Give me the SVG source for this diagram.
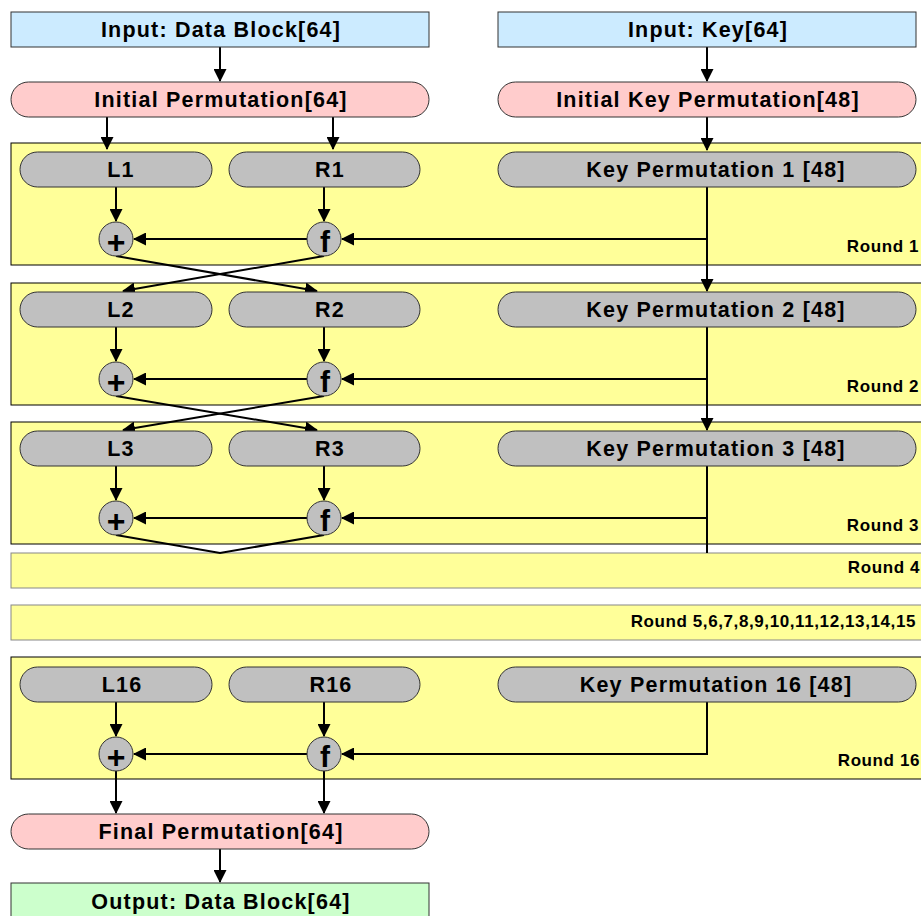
<svg xmlns="http://www.w3.org/2000/svg" width="921" height="916" viewBox="0 0 921 916">
<style>
.rnd{fill:#ffff99;stroke:#000;stroke-width:1}
.soft{stroke:#888}
.in{fill:#ccebff;stroke:#333;stroke-width:1}
.perm{fill:#ffcccc;stroke:#333;stroke-width:1}
.reg{fill:#c0c0c0;stroke:#333;stroke-width:1}
.out{fill:#ccffcc;stroke:#333;stroke-width:1}
text{font-family:"Liberation Sans",Arial,sans-serif;font-weight:bold;fill:#000}
.t{font-size:21.5px;letter-spacing:1.2px;text-anchor:middle}
.rl{font-size:17px;letter-spacing:0.6px;text-anchor:end}
.sym{text-anchor:middle}
.c{fill:none;stroke:#000;stroke-width:2}
.a{marker-end:url(#ah)}
</style>
<defs>
<marker id="ah" markerUnits="userSpaceOnUse" markerWidth="13" markerHeight="13" refX="12" refY="6.5" orient="auto">
<path d="M0,0 L13,6.5 L0,13 z" fill="#000"/>
</marker>
</defs>

<!-- round bands -->
<g id="round1"><rect class="rnd" x="11" y="143" width="912" height="122"/><text class="rl" x="919" y="252">Round 1</text></g>
<g id="round2"><rect class="rnd" x="11" y="283" width="912" height="122"/><text class="rl" x="919" y="392">Round 2</text></g>
<g id="round3"><rect class="rnd" x="11" y="422" width="912" height="122"/><text class="rl" x="919" y="531">Round 3</text></g>
<g id="round4"><rect class="rnd soft" x="11" y="553" width="912" height="35"/><text class="rl" x="920" y="573">Round 4</text></g>
<g id="round5_15"><rect class="rnd soft" x="11" y="605" width="912" height="35"/><text class="rl" x="916" y="627">Round 5,6,7,8,9,10,11,12,13,14,15</text></g>
<g id="round16"><rect class="rnd" x="11" y="657" width="912" height="122"/><text class="rl" x="920" y="766">Round 16</text></g>

<!-- connectors -->
<g id="connectors">
<path class="c a" d="M220,47 V81"/>
<path class="c a" d="M707,47 V81"/>
<path class="c a" d="M107,117 V149"/>
<path class="c a" d="M333,117 V149"/>
<path class="c a" d="M707,117 V150"/>

<path class="c a" d="M116,187 V221"/>
<path class="c a" d="M324,187 V221"/>
<path class="c a" d="M707,187 V291"/>
<path class="c a" d="M707,239 H342"/>
<path class="c a" d="M307,239 H134"/>
<path class="c a" d="M116,256 L317,291"/>
<path class="c a" d="M324,256 L123,291"/>

<path class="c a" d="M116,327 V361"/>
<path class="c a" d="M324,327 V361"/>
<path class="c a" d="M707,327 V430"/>
<path class="c a" d="M707,379 H342"/>
<path class="c a" d="M307,379 H134"/>
<path class="c a" d="M116,396 L317,430"/>
<path class="c a" d="M324,396 L123,430"/>

<path class="c a" d="M116,466 V500"/>
<path class="c a" d="M324,466 V500"/>
<path class="c" d="M707,466 V553"/>
<path class="c a" d="M707,518 H342"/>
<path class="c a" d="M307,518 H134"/>
<path class="c" d="M116,535 L220,553 L324,535"/>

<path class="c a" d="M116,702 V736"/>
<path class="c a" d="M324,702 V736"/>
<path class="c a" d="M707,702 V754 H342"/>
<path class="c a" d="M307,754 H134"/>
<path class="c a" d="M116,771 V813"/>
<path class="c a" d="M324,771 V813"/>
<path class="c a" d="M220,849 V882"/>
</g>

<!-- inputs and permutations -->
<g id="in_data"><rect class="in" x="11" y="12" width="418" height="35"/><text class="t" x="221" y="37">Input: Data Block[64]</text></g>
<g id="in_key"><rect class="in" x="498" y="12" width="418" height="35"/><text class="t" x="708" y="37">Input: Key[64]</text></g>
<g id="ip"><rect class="perm" x="11" y="82" width="418" height="35" rx="17.5"/><text class="t" x="221" y="107">Initial Permutation[64]</text></g>
<g id="ikp"><rect class="perm" x="498" y="82" width="418" height="35" rx="17.5"/><text class="t" x="708" y="107">Initial Key Permutation[48]</text></g>

<!-- round 1 -->
<g id="L1"><rect class="reg" x="20" y="152" width="192" height="35" rx="17.5"/><text class="t" x="121" y="177">L1</text></g>
<g id="R1"><rect class="reg" x="229" y="152" width="191" height="35" rx="17.5"/><text class="t" x="330" y="177">R1</text></g>
<g id="K1"><rect class="reg" x="498" y="152" width="418" height="35" rx="17.5"/><text class="t" x="716" y="177">Key Permutation 1 [48]</text></g>
<g id="xor1"><circle class="reg" cx="116" cy="239" r="17"/><text class="sym" x="116" y="253" font-size="32">+</text></g>
<g id="f1"><circle class="reg" cx="324" cy="239" r="17"/><text class="sym" x="325" y="252" font-size="30">f</text></g>

<!-- round 2 -->
<g id="L2"><rect class="reg" x="20" y="292" width="192" height="35" rx="17.5"/><text class="t" x="121" y="317">L2</text></g>
<g id="R2"><rect class="reg" x="229" y="292" width="191" height="35" rx="17.5"/><text class="t" x="330" y="317">R2</text></g>
<g id="K2"><rect class="reg" x="498" y="292" width="418" height="35" rx="17.5"/><text class="t" x="716" y="317">Key Permutation 2 [48]</text></g>
<g id="xor2"><circle class="reg" cx="116" cy="379" r="17"/><text class="sym" x="116" y="393" font-size="32">+</text></g>
<g id="f2"><circle class="reg" cx="324" cy="379" r="17"/><text class="sym" x="325" y="392" font-size="30">f</text></g>

<!-- round 3 -->
<g id="L3"><rect class="reg" x="20" y="431" width="192" height="35" rx="17.5"/><text class="t" x="121" y="456">L3</text></g>
<g id="R3"><rect class="reg" x="229" y="431" width="191" height="35" rx="17.5"/><text class="t" x="330" y="456">R3</text></g>
<g id="K3"><rect class="reg" x="498" y="431" width="418" height="35" rx="17.5"/><text class="t" x="716" y="456">Key Permutation 3 [48]</text></g>
<g id="xor3"><circle class="reg" cx="116" cy="518" r="17"/><text class="sym" x="116" y="532" font-size="32">+</text></g>
<g id="f3"><circle class="reg" cx="324" cy="518" r="17"/><text class="sym" x="325" y="531" font-size="30">f</text></g>

<!-- round 16 -->
<g id="L16"><rect class="reg" x="20" y="667" width="192" height="35" rx="17.5"/><text class="t" x="122" y="692">L16</text></g>
<g id="R16"><rect class="reg" x="229" y="667" width="191" height="35" rx="17.5"/><text class="t" x="331" y="692">R16</text></g>
<g id="K16"><rect class="reg" x="498" y="667" width="418" height="35" rx="17.5"/><text class="t" x="716" y="692">Key Permutation 16 [48]</text></g>
<g id="xor16"><circle class="reg" cx="116" cy="754" r="17"/><text class="sym" x="116" y="768" font-size="32">+</text></g>
<g id="f16"><circle class="reg" cx="324" cy="754" r="17"/><text class="sym" x="325" y="767" font-size="30">f</text></g>

<!-- output side -->
<g id="fp"><rect class="perm" x="11" y="814" width="418" height="35" rx="17.5"/><text class="t" x="221" y="839">Final Permutation[64]</text></g>
<g id="out_data"><rect class="out" x="11" y="883" width="418" height="36"/><text class="t" x="221" y="909">Output: Data Block[64]</text></g>
</svg>
